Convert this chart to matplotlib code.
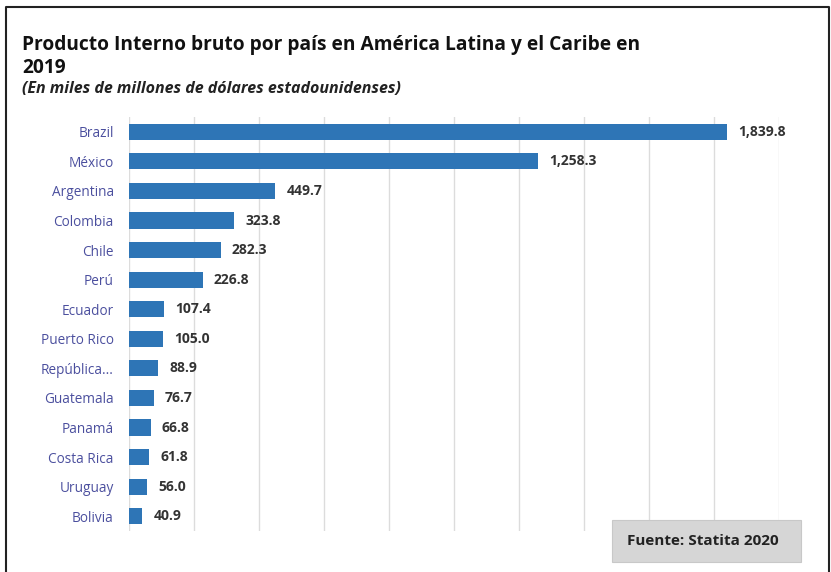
import matplotlib
matplotlib.use("Agg")
import matplotlib.pyplot as plt
from matplotlib.patches import Rectangle
from matplotlib.lines import Line2D

countries = ["Brazil", "México", "Argentina", "Colombia", "Chile", "Perú", "Ecuador",
             "Puerto Rico", "República...", "Guatemala", "Panamá", "Costa Rica",
             "Uruguay", "Bolivia"]
values = [1839.8, 1258.3, 449.7, 323.8, 282.3, 226.8, 107.4, 105.0, 88.9, 76.7,
          66.8, 61.8, 56.0, 40.9]
value_labels = ["1,839.8", "1,258.3", "449.7", "323.8", "282.3", "226.8", "107.4",
                "105.0", "88.9", "76.7", "66.8", "61.8", "56.0", "40.9"]

W, H = 831, 572
fig = plt.figure(figsize=(W / 100, H / 100), dpi=100)
fig.patch.set_facecolor("white")

# frame around figure (left, top, right)
fx0, fx1, fy = 6 / W, 829 / W, 1 - 7 / H
fig.add_artist(Line2D([fx0, fx0, fx1, fx1], [0, fy, fy, 0], transform=fig.transFigure,
                      color="#222222", linewidth=1.5))

ax = fig.add_axes([129 / W, 1 - 531 / H, (779 - 129) / W, (531 - 117) / H])
y = list(range(len(countries)))
ax.barh(y, values, height=0.55, color="#2e75b6", zorder=3)
ax.set_xlim(0, 2000)
ax.set_ylim(len(countries) - 0.5, -0.5)
ax.set_xticks(range(0, 2001, 200))
ax.set_xticklabels([])
ax.tick_params(axis="x", length=0)
ax.tick_params(axis="y", length=0, pad=11)
ax.set_yticks(y)
ax.set_yticklabels(countries, fontsize=9.8, color="#4b4f9e", family="Open Sans")
ax.grid(axis="x", color="#dcdcdc", linewidth=1, zorder=0)
for s in ax.spines.values():
    s.set_visible(False)

for yi, v, lab in zip(y, values, value_labels):
    ax.annotate(lab, (v, yi), xytext=(8, 0), textcoords="offset points",
                va="center", ha="left", fontsize=10, fontweight="bold",
                color="#333333", family="Open Sans")

fig.text(22 / W, 1 - 45 / H, "Producto Interno bruto por país en América Latina y el Caribe en",
         fontsize=13.8, fontweight="bold", color="#111111", family="Open Sans", va="center")
fig.text(22 / W, 1 - 68 / H, "2019", fontsize=13.8, fontweight="bold", color="#111111",
         family="Open Sans", va="center")
fig.text(22 / W, 1 - 89 / H, "(En miles de millones de dólares estadounidenses)",
         fontsize=11.5, fontweight="bold", style="italic", color="#222222",
         family="Open Sans", va="center")

fig.add_artist(Rectangle((612 / W, 1 - 562 / H), (801 - 612) / W, (562 - 520) / H,
                         transform=fig.transFigure, facecolor="#d6d6d6",
                         edgecolor="#c8c8c8", linewidth=0.8))
fig.text(703 / W, 1 - 541 / H, "Fuente: Statita 2020", fontsize=11, fontweight="bold",
         color="#222222", family="Open Sans", ha="center", va="center")

fig.savefig("out.png", dpi=100)
